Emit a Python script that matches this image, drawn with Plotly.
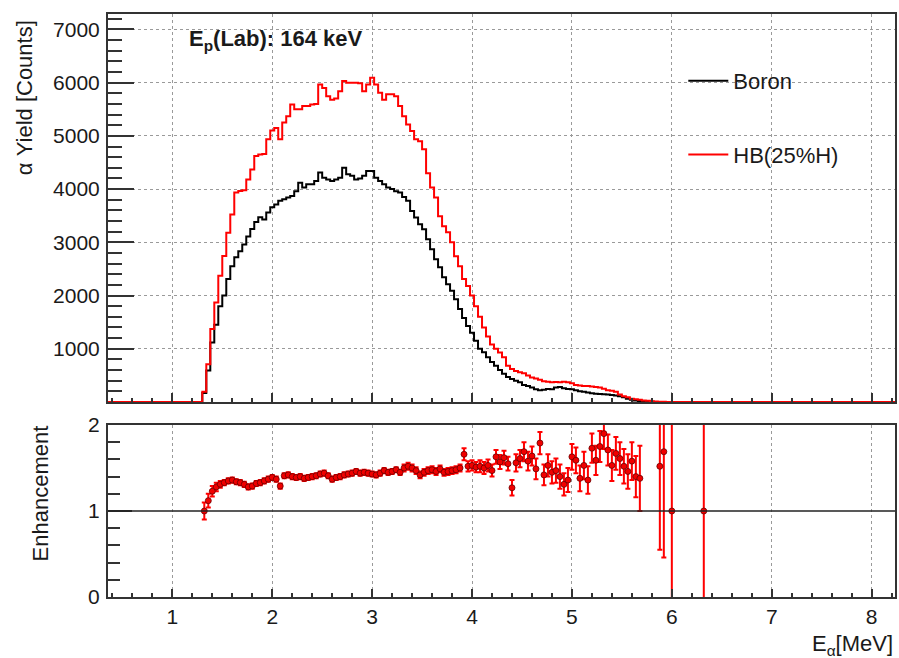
import numpy as np
import plotly.graph_objects as go

# ---------------- data ----------------
bin_start = 1.30      # MeV, left edge of first listed bin
bin_width = 0.04      # MeV
x_lo, x_hi = 0.30, 8.30   # histogram extent (zero outside listed bins)

boron_counts = [
    170, 590, 1120, 1450, 1800, 2000, 2310, 2550, 2720, 2830,
    2960, 3110, 3250, 3380, 3470, 3430, 3560, 3660, 3710, 3780,
    3810, 3840, 3870, 3960, 4120, 4030, 4090, 4090, 4150, 4310,
    4215, 4180, 4150, 4180, 4215, 4400, 4280, 4250, 4180, 4200,
    4250, 4340, 4340, 4215, 4150, 4090, 4030, 4000, 3960, 3935,
    3850, 3780, 3590, 3465, 3340, 3245, 3060, 2870, 2680, 2530,
    2345, 2210, 2090, 1930, 1745, 1580, 1430, 1300, 1150, 1000,
    935, 840, 750, 680, 600, 530, 470, 430, 400, 370,
    320, 300, 270, 240, 220, 230, 245, 240, 270, 280,
    260, 245, 240, 220, 200, 190, 180, 165, 155, 150,
    145, 140, 130, 120, 110, 90, 60, 40, 30, 20,
    12, 6, 3, 2, 1, 0, 0, 0,
]

hb_counts = [
    190, 710, 1370, 1870, 2370, 2745, 3180, 3525, 3935, 3965,
    3980, 4180, 4370, 4620, 4650, 4660, 4935, 5100, 5150, 4935,
    5250, 5370, 5590, 5500, 5500, 5560, 5560, 5590, 5600, 5965,
    5900, 5745, 5680, 5700, 5840, 6030, 6000, 6000, 6000, 5990,
    5840, 5965, 6090, 5965, 5810, 5680, 5780, 5780, 5745, 5560,
    5370, 5215, 5090, 4935, 4900, 4750, 4300, 4030, 3840, 3490,
    3300, 3190, 3000, 2740, 2550, 2310, 2180, 2000, 1800, 1600,
    1400, 1230, 1080, 1000, 930, 840, 680, 620, 580, 560,
    540, 500, 460, 440, 420, 390, 380, 370, 375, 370,
    380, 370, 350, 320, 310, 300, 300, 290, 280, 270,
    250, 220, 210, 190, 140, 110, 90, 60, 50, 40,
    30, 25, 15, 8, 4, 3, 2, 1,
]

# enhancement (HB / Boron) per bin, None where no point drawn
enhancement = [
    1.00, 1.12, 1.23, 1.28, 1.31, 1.33, 1.35, 1.36, 1.34, 1.33,
    1.31, 1.28, 1.29, 1.32, 1.33, 1.35, 1.37, 1.39, 1.37, 1.29,
    1.41, 1.42, 1.40, 1.39, 1.40, 1.38, 1.39, 1.40, 1.41, 1.43,
    1.44, 1.41, 1.37, 1.39, 1.40, 1.42, 1.43, 1.44, 1.46, 1.44,
    1.45, 1.44, 1.43, 1.42, 1.44, 1.47, 1.45, 1.46, 1.48, 1.45,
    1.50, 1.52, 1.50, 1.47, 1.42, 1.45, 1.47, 1.48, 1.46, 1.49,
    1.45, 1.46, 1.47, 1.48, 1.50, 1.66, 1.52, 1.53, 1.51, 1.52,
    1.50, 1.53, 1.47, 1.63, 1.57, 1.62, 1.55, 1.27, 1.56, 1.61,
    1.69, 1.58, 1.64, 1.49, 1.79, 1.42, 1.53, 1.45, 1.47, 1.40,
    1.31, 1.36, 1.63, 1.59, 1.38, 1.53, 1.36, 1.73, 1.59, 1.75,
    1.90, 1.71, 1.53, 1.67, 1.61, 1.52, 1.46, 1.58, 1.40, 1.38,
    None, None, None, None, 1.52, 1.69, None, 1.00, None, None,
    None, None, None, None, None, 1.00,
]
enhancement_err = [
    0.10, 0.08, 0.06, 0.05, 0.04, 0.03, 0.03, 0.03, 0.03, 0.03,
    0.03, 0.03, 0.03, 0.03, 0.03, 0.03, 0.03, 0.03, 0.03, 0.03,
    0.03, 0.03, 0.03, 0.03, 0.03, 0.03, 0.03, 0.03, 0.03, 0.03,
    0.03, 0.03, 0.03, 0.03, 0.03, 0.03, 0.03, 0.03, 0.03, 0.03,
    0.03, 0.03, 0.03, 0.03, 0.03, 0.03, 0.03, 0.03, 0.03, 0.03,
    0.04, 0.04, 0.04, 0.04, 0.04, 0.04, 0.04, 0.04, 0.04, 0.04,
    0.04, 0.04, 0.04, 0.04, 0.04, 0.07, 0.06, 0.06, 0.06, 0.07,
    0.07, 0.07, 0.07, 0.08, 0.08, 0.08, 0.08, 0.09, 0.10, 0.10,
    0.11, 0.11, 0.11, 0.12, 0.13, 0.12, 0.13, 0.13, 0.14, 0.14,
    0.13, 0.14, 0.15, 0.15, 0.15, 0.16, 0.16, 0.17, 0.17, 0.18,
    0.18, 0.18, 0.18, 0.19, 0.19, 0.20, 0.20, 0.22, 0.24, 0.38,
    None, None, None, None, 0.97, 1.23, None, 2.00, None, None,
    None, None, None, None, None, 2.00,
]

x_range = [0.356, 8.234]
y_top_range = [0, 7290]
y_bot_range = [0, 2]
x_ticks = [1, 2, 3, 4, 5, 6, 7, 8]
y_top_ticks = [1000, 2000, 3000, 4000, 5000, 6000, 7000]
y_bot_ticks = [0, 1, 2]

# ---------------- build histogram steps ----------------
n_pre = int(round((bin_start - x_lo) / bin_width))
n_data = len(boron_counts)
n_post = int(round((x_hi - (bin_start + n_data * bin_width)) / bin_width))
edges = x_lo + bin_width * np.arange(n_pre + n_data + n_post + 1)

def steps(counts):
    vals = np.concatenate([np.zeros(n_pre), np.array(counts, float), np.zeros(n_post)])
    return np.append(vals, vals[-1])

centers = bin_start + bin_width * (np.arange(len(enhancement)) + 0.5)

FONT = "Liberation Sans, Arial, Helvetica, sans-serif"
TXT = "#1a1a1a"

fig = go.Figure()

fig.add_trace(go.Scatter(
    x=edges, y=steps(boron_counts), mode="lines", line=dict(color="black", width=2, shape="hv"),
    name="Boron", legendgroup="b", xaxis="x", yaxis="y"))
fig.add_trace(go.Scatter(
    x=edges, y=steps(hb_counts), mode="lines", line=dict(color="#ff0000", width=2, shape="hv"),
    name="HB(25%H)", legendgroup="h", xaxis="x", yaxis="y"))

fig.add_trace(go.Scatter(
    x=centers, y=enhancement, mode="markers",
    marker=dict(color="#f00000", size=6, symbol="circle", line=dict(color="#6a0000", width=0.8)),
    error_y=dict(type="data", array=enhancement_err, color="#ff0000", thickness=2, width=2.5),
    showlegend=False, xaxis="x2", yaxis="y2", cliponaxis=True))

# reference line at enhancement = 1
fig.add_shape(type="line", xref="x2 domain", yref="y2", x0=0, x1=1, y0=1, y1=1,
              line=dict(color="#222", width=1.6), layer="above")

axis_common = dict(
    showline=True, linecolor="#333", linewidth=2, mirror=True,
    zeroline=False, showgrid=True, gridcolor="#9a9a9a", griddash="dot", gridwidth=1,
    ticks="inside", tickcolor="#333", tickwidth=1.5,
    tickfont=dict(family=FONT, size=21, color=TXT),
)

fig.update_layout(
    width=899, height=658,
    margin=dict(l=108, r=2, t=14, b=61),
    paper_bgcolor="white", plot_bgcolor="white",
    font=dict(family=FONT, color=TXT),
    xaxis=dict(axis_common, domain=[0, 1], range=x_range, anchor="y",
               tickvals=x_ticks, showticklabels=False, ticklen=9,
               minor=dict(dtick=0.2, tick0=0, ticks="inside", ticklen=4, tickcolor="#333", showgrid=False)),
    yaxis=dict(axis_common, domain=[0.3345, 1], range=y_top_range, anchor="x",
               tickvals=y_top_ticks, ticklen=26, ticklabelstandoff=2,
               minor=dict(dtick=200, tick0=0, ticks="inside", ticklen=14, tickcolor="#333", showgrid=False)),
    xaxis2=dict(axis_common, domain=[0, 1], range=x_range, anchor="y2",
                tickvals=x_ticks, ticklen=8,
                minor=dict(dtick=0.2, tick0=0, ticks="inside", ticklen=4, tickcolor="#333", showgrid=False)),
    yaxis2=dict(axis_common, domain=[0, 0.295], range=y_bot_range, anchor="x2",
                tickvals=y_bot_ticks, ticklen=24, showgrid=False, ticklabelstandoff=2,
                minor=dict(dtick=0.2, tick0=0, ticks="inside", ticklen=12, tickcolor="#333", showgrid=False)),
    legend=dict(x=0.731, y=0.921, xanchor="left", yanchor="top",
                bgcolor="rgba(0,0,0,0)", borderwidth=0,
                font=dict(family=FONT, size=22, color=TXT),
                tracegroupgap=42, itemwidth=40),
    showlegend=True,
)

fig.add_annotation(text="<b>E<sub>p</sub>(Lab): 164 keV</b>", xref="paper", yref="paper",
                   x=0.100, y=0.955, xanchor="left", yanchor="middle", showarrow=False,
                   font=dict(family=FONT, size=22, color=TXT))
fig.add_annotation(text="α Yield [Counts]", xref="paper", yref="paper",
                   x=-0.1052, y=0.856, xanchor="center", yanchor="middle", textangle=-90,
                   showarrow=False, font=dict(family=FONT, size=22, color=TXT))
fig.add_annotation(text="Enhancement", xref="paper", yref="paper",
                   x=-0.0862, y=0.178, xanchor="center", yanchor="middle", textangle=-90,
                   showarrow=False, font=dict(family=FONT, size=22, color=TXT))
fig.add_annotation(text="E<sub>α</sub>[MeV]", xref="paper", yref="paper",
                   x=1.0, y=-0.082, xanchor="right", yanchor="middle",
                   showarrow=False, font=dict(family=FONT, size=22, color=TXT))

fig.write_html("out.html", config={"displayModeBar": False},
               post_script="document.body.style.margin='0';document.body.style.overflow='hidden';")
